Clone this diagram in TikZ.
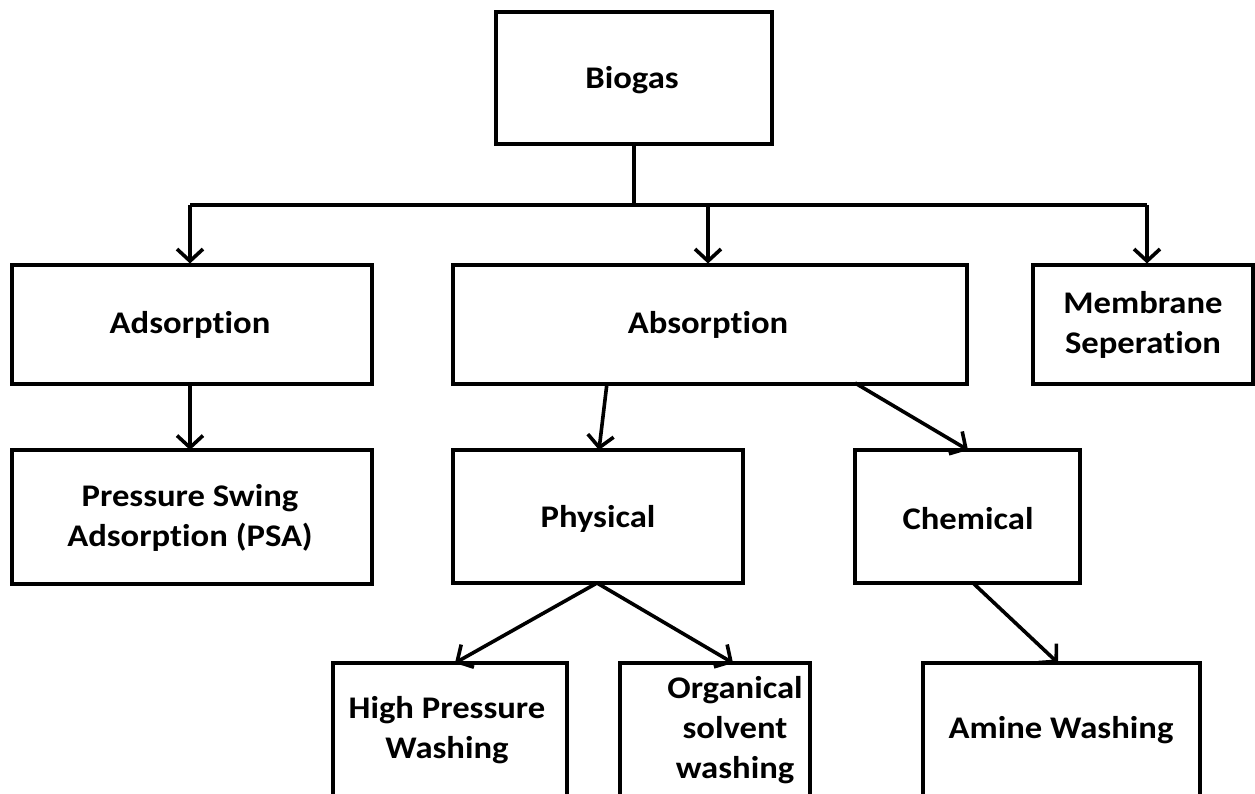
\documentclass[tikz,border=0pt]{standalone}
\usepackage{fontspec}
\setmainfont{Carlito}[Ligatures=NoCommon, FakeStretch=1.1]
\usetikzlibrary{arrows.meta}
\tikzset{
  box/.style={draw=black, line width=4pt, fill=white, inner sep=0pt},
  lbl/.style={font=\bfseries\fontsize{31.5}{40}\selectfont, align=center, text=black},
  link/.style={line width=3.6pt, -{Straight Barb[length=12pt,width=26pt,line width=3.6pt]}},
  trunk/.style={line width=3.6pt}
}
\begin{document}
\begin{tikzpicture}[x=1pt,y=-1pt]
\useasboundingbox (0,0) rectangle (1255,794);
\clip (0,0) rectangle (1255,794);
\fill[white] (0,0) rectangle (1255,794);

% boxes (pixel-style coordinates, y downwards)
\node[box, minimum width=276pt, minimum height=132pt] (biogas) at (634,78.5) {};
\node[box, minimum width=360pt, minimum height=118pt] (ads) at (192,324.5) {};
\node[box, minimum width=514pt, minimum height=118pt] (abs) at (710,324.5) {};
\node[box, minimum width=220pt, minimum height=118pt] (mem) at (1143,324.5) {};
\node[box, minimum width=360pt, minimum height=134pt] (psa) at (192,517) {};
\node[box, minimum width=290pt, minimum height=133pt] (phy) at (598,516.5) {};
\node[box, minimum width=225pt, minimum height=133pt] (chem) at (967.5,516.5) {};
\node[box, minimum width=234pt, minimum height=200pt] (hpw) at (450,763) {};
\node[box, minimum width=190pt, minimum height=200pt] (org) at (715,763) {};
\node[box, minimum width=277pt, minimum height=200pt] (amine) at (1061.5,763) {};

% labels
\node[lbl] (tbiogas) at (632,80) {Biogas};
\node[lbl] (tads) at (190,325) {Adsorption};
\node[lbl] (tabs) at (708,325) {Absorption};
\node[lbl] (tmem) at (1143,325) {Membrane\\Seperation};
\node[lbl] (tpsa) at (190,518) {Pressure Swing\\Adsorption (PSA)};
\node[lbl] (tphy) at (598,519) {Physical};
\node[lbl] (tchem) at (968,519) {Chemical};
\node[lbl] (thpw) at (447,730) {High Pressure\\Washing};
\node[lbl] (torg) at (735,730) {Organical\\solvent\\washing};
\node[lbl] (tamine) at (1061,730) {Amine Washing};

% branching from Biogas
\coordinate (bus) at (634,205);
\coordinate (busL) at (190,205);
\coordinate (busM) at (708,205);
\coordinate (busR) at (1147,205);
\draw[trunk] (biogas.south) -- (bus);
\draw[trunk] (busL) -- (busR);
\draw[link] (busL) -- (busL |- ads.north);
\draw[link] (busM) -- (busM |- abs.north);
\draw[link] (busR) -- (busR |- mem.north);

% second level
\draw[link] (190,383) -- (190,450);
\draw[link] (607,383) -- (599,450);
\draw[link] (855,383) -- (968,450);

% third level
\draw[link] (597,583) -- (455,663);
\draw[link] (597,583) -- (733,663);
\draw[link] (973,583) -- (1058,663);
\end{tikzpicture}
\end{document}
